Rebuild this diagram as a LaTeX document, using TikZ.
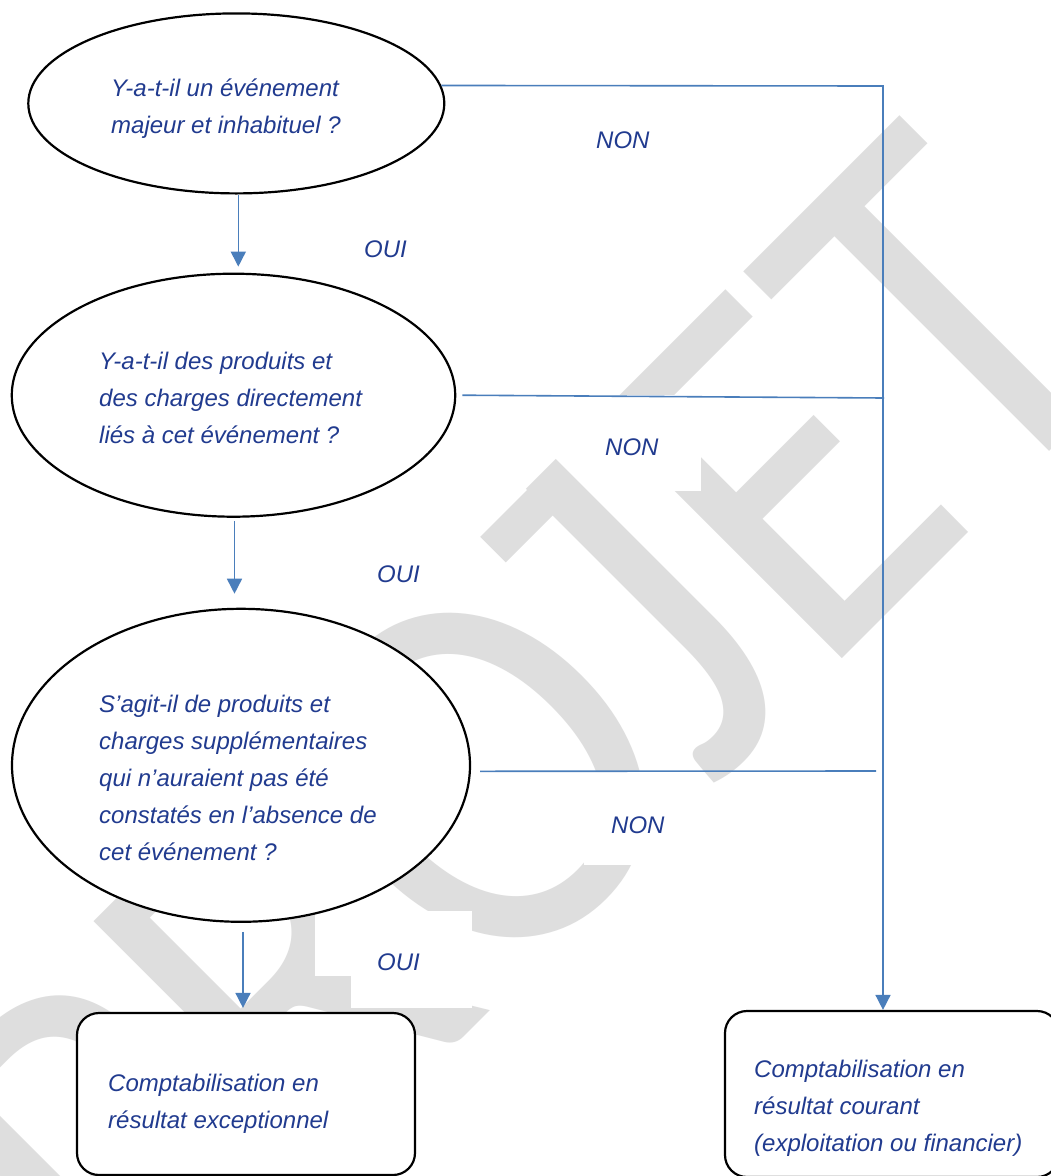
\documentclass[tikz,border=0pt]{standalone}
\usepackage{fontspec}
\setmainfont{Liberation Sans}
\newfontfamily\wmfont[FakeStretch=0.89]{Carlito}
\usetikzlibrary{arrows.meta,shapes.geometric}
\definecolor{lineblue}{RGB}{74,126,187}
\definecolor{txtblue}{RGB}{33,59,143}
\definecolor{wmgray}{RGB}{222,222,222}
\newcommand\mylines[1]{\begin{tabular}[t]{@{}l@{}}#1\end{tabular}}
\begin{document}
\begin{tikzpicture}[x=1pt,y=-1pt,
  q/.style={ellipse, draw=black, line width=2.2pt, fill=white, inner sep=0pt},
  res/.style={rectangle, rounded corners=22pt, draw=black, line width=2.2pt, fill=white, inner sep=0pt},
  txt/.style={anchor=base west, inner sep=0pt, text=txtblue, font=\fontsize{24}{37}\selectfont\itshape},
  conn/.style={draw=lineblue, line width=1.6pt},
  arr/.style={conn, -{Triangle[length=15pt,width=15pt]}},
  mask/.style={fill=white, draw=none}]
\useasboundingbox (0,0) rectangle (1051,1176);
\clip (0,0) rectangle (1051,1176);
\fill[white] (0,0) rectangle (1051,1176);
% watermark
\node[rotate=45, anchor=base east, inner sep=0pt, text=wmgray,
      font=\wmfont\fontsize{535}{600}\selectfont] (wm) at (1146.5,354.5) {PROJET};
% top bar of the watermark's J
\fill[wmgray] (480.2,536.8) -- (552.4,464.6) -- (577.9,490.2) -- (505.7,562.3) -- cycle;
% white label backgrounds hiding the watermark
\fill[mask] (588,395) rectangle (701,491);
\fill[mask] (584,772) rectangle (700,865);
\fill[mask] (351,911) rectangle (472,1008);
\fill[mask] (315,911) rectangle (472,976);
% shapes
\node[q, minimum width=416pt, minimum height=180pt] (e1) at (236.3,103.4) {};
\node[q, minimum width=443.4pt, minimum height=243pt] (e2) at (233.5,395.2) {};
\node[q, minimum width=458pt, minimum height=313pt] (e3) at (241,765.3) {};
\node[res, minimum width=338pt, minimum height=162pt] (b1) at (246,1094) {};
\node[res, minimum width=334pt, minimum height=166pt] (b2) at (892,1094) {};
% texts
\node[txt] (t1) at (111,96) {\mylines{Y-a-t-il un événement\\majeur et inhabituel ?}};
\node[txt] (t2) at (99,369) {\mylines{Y-a-t-il des produits et\\des charges directement\\liés à cet événement ?}};
\node[txt] (t3) at (99,712) {\mylines{S’agit-il de produits et\\charges supplémentaires\\qui n’auraient pas été\\constatés en l’absence de\\cet événement ?}};
\node[txt] (t4) at (108,1091) {\mylines{Comptabilisation en\\résultat exceptionnel}};
\node[txt] (t5) at (754,1077) {\mylines{Comptabilisation en\\résultat courant\\(exploitation ou financier)}};
% labels
\node[txt] (n1) at (596,148) {NON};
\node[txt] (o1) at (364,257) {OUI};
\node[txt] (n2) at (605,455) {NON};
\node[txt] (o2) at (377,582) {OUI};
\node[txt] (n3) at (611,833) {NON};
\node[txt] (o3) at (377,970) {OUI};
% connectors
\coordinate (rt) at (883,86);
\coordinate (j2) at (884,398);
\coordinate (j3) at (876,771);
\draw[arr] (e1.5) -- (rt) -- (rt |- b2.north);
\draw[conn] ([xshift=6pt]e2.east) -- (j2);
\draw[conn] ([shift={(9,6)}]e3.east) -- (j3);
\draw[arr, shorten >=6pt] ([xshift=2pt]e1.south) -- ([xshift=2pt]e1.south |- e2.north);
\draw[arr, shorten <=3pt, shorten >=14pt] ([xshift=1pt]e2.south) -- ([xshift=1pt]e2.south |- e3.north);
\draw[arr, shorten <=9pt, shorten >=4pt] ([xshift=2pt]e3.south) -- ([xshift=2pt]e3.south |- b1.north);
\end{tikzpicture}
\end{document}
